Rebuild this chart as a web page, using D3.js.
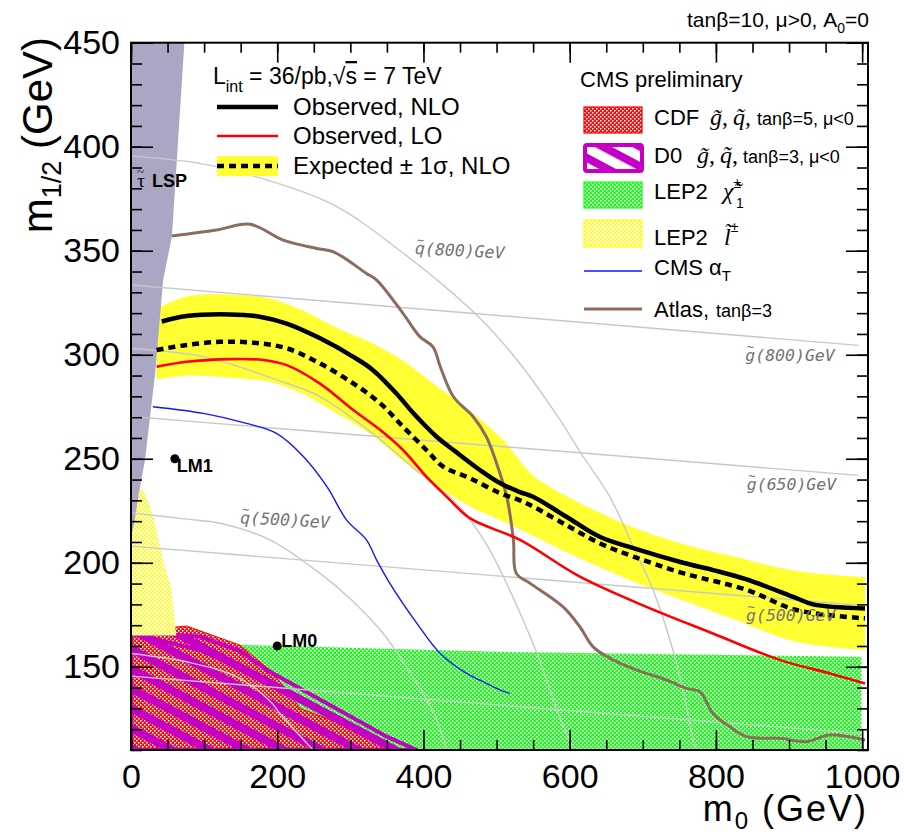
<!DOCTYPE html>
<html>
<head>
<meta charset="utf-8">
<script src="https://cdn.jsdelivr.net/npm/d3@7"></script>
<style>
  body { margin: 0; background: #fff; }
  svg text { font-family: "Liberation Sans", Arial, sans-serif; }
</style>
</head>
<body>
<svg id="chart" width="904" height="838"></svg>
<script>
// axis ticks
const xTicksMajor = [0, 200, 400, 600, 800, 1000];
const yTicksMajor = [150, 200, 250, 300, 350, 400, 450];

// expected +-1 sigma band (m0, upper, lower)
const bandM0   = [35, 76, 135, 190, 236, 281, 327, 372, 418, 464, 509, 550, 596, 641, 687, 755, 824, 910, 1004];
const bandUp   = [322, 328, 329, 327, 321, 313, 306, 297, 285, 273, 259, 242, 232, 224, 217, 209, 203, 196, 193];
const bandDown = [288, 290, 289, 287, 281, 272, 262, 249, 237, 227, 220, 213, 205, 198, 191, 182, 173, 162, 158];

// limit curves [m0, m1/2]
const obsNLO = [[42,316],[76,318.6],[135,319.4],[176,318.3],[213,315],[258,308],[304,299],[331,292.6],[363,281.4],[386,272],[418,260.6],[441,254.2],[477,244.6],[505,238.2],[532,234],[550,231.7],[596,222],[641,212.5],[687,207],[755,200],[796,196.5],[842,192],[910,183],[933,180],[1004,178]];
const expNLO = [[35,302.3],[76,304.7],[122,306.2],[167,305.8],[213,303.1],[258,295.9],[304,286.2],[341,276.6],[372,265.4],[404,254.2],[427,246.2],[464,240.6],[505,233.4],[532,230],[550,227],[596,218],[641,209.4],[687,203],[755,195],[842,187],[910,177.3],[1004,173.3]];
const obsLO = [[35,294.2],[76,296.6],[135,297.9],[181,297.5],[213,295],[258,286.2],[304,273.4],[341,263.8],[372,254.2],[404,241.4],[432,231.7],[464,221.3],[532,211],[614,193.3],[705,178.8],[796,166],[888,153.2],[956,146.8],[1004,142]];
const cmsAlphaT = [[30,275],[99,271.8],[158,267],[199,262.2],[236,251],[268,236.6],[295,220.5],[322,211],[336,201.3],[354,190.1],[391,170.9],[423,156.4],[459,146.8],[477,143.6],[505,138.8],[518,137.2]];
const atlas = [[56,357.1],[117,360],[163,362.7],[208,355.1],[254,351.1],[277,349.5],[322,339.1],[336,335.9],[372,319.9],[395,308.7],[413,303.8],[423,294.2],[441,279.8],[468,270.2],[486,260.6],[500,247.8],[514,231.7],[523,211],[527,194.9],[546,190.1],[591,178.8],[614,169.2],[632,159.6],[660,153.2],[692,148.4],[733,143.6],[760,139.6],[778,138],[796,127.6],[819,121.2],[842,116.4],[888,115.6],[924,114],[956,117.2],[1004,114.8]];

// excluded regions
const stauLSP = [[0,212],[5,220],[10,232],[19,249],[33,291],[44,336],[56,357],[73,450],[0,450]];
const lep2Slepton = [[0,232],[12,237],[22,231],[33,219],[44,201],[55,188],[60,171],[62,165],[0,165]];
const lep2Chargino = [[100,161],[505,157.2],[999,154.8],[999,110],[100,110]];
const cdf = [[0,167],[76,169.6],[149,160.4],[190,148.4],[213,138.8],[231,130],[299,121.2],[350,113.2],[354,110],[0,110]];
const d0 = [[0,167],[95,164.4],[149,157.7],[186,148.4],[350,116.4],[391,110],[0,110]];
const d0Inner = [[0,166],[95,158],[186,143.6],[277,126],[359,110]];

// iso-mass lines
const squark800 = [[0,395.5],[94,392],[186,384],[277,372],[368,350],[473,319],[528,297.5],[587,268.6],[614,253.4],[655,231.7],[687,207.7],[714,187],[737,163],[755,139],[769,115],[774,110]];
const squark650 = [[0,303],[100,299],[199,288],[258,280],[331,262],[395,243],[441,230],[486,209],[532,176],[559,153],[583,129],[605,110]];
const squark500 = [[0,224],[76,221],[122,219],[190,211],[258,195],[299,183],[345,166],[382,147],[414,128],[432,110]];
const squark350 = [[0,156.4],[76,152.4],[145,145.2],[190,133.6],[204,127.4],[249,110]];
const gluino800 = [[0,333.5],[995,304.5]];
const gluino650 = [[0,270.3],[995,242]];
const gluino500 = [[0,208],[1000,179.5]];
const gluino350 = [[0,145.5],[997,118]];

// iso-mass labels: letter, mass, anchor [m0, m1/2], tilt
const isoLetters = ['q', 'g', 'g', 'q', 'g'];
const isoMasses  = [800, 800, 650, 500, 500];
const isoAnchors = [[388, 348.5], [840, 297], [842, 235], [149, 219], [841, 172]];
const isoTilts   = [3, 0, 0, 3, 0];

// benchmark points
const benchNames = ['LM1', 'LM0'];
const benchM0    = [60, 200];
const benchM12   = [250, 160];

const x = d3.scaleLinear().domain([0, 1008]).range([131, 868]);
const y = d3.scaleLinear().domain([110, 450]).range([750, 42.7]);

const svg = d3.select('#chart');
const defs = svg.append('defs');

function checker(id, color, cell) {
    const p = defs.append('pattern').attr('id', id)
        .attr('patternUnits', 'userSpaceOnUse').attr('width', 4).attr('height', 4);
    p.append('rect').attr('width', 4).attr('height', 4).attr('fill', color);
    p.append('rect').attr('width', cell).attr('height', cell).attr('fill', '#fff');
    p.append('rect').attr('x', 2).attr('y', 2).attr('width', cell).attr('height', cell).attr('fill', '#fff');
}
checker('redck', '#ff0a0a', 1.5);
checker('greenck', '#1aff1a', 1.5);
checker('yellowck', '#ffff10', 2);

const hatch = defs.append('pattern').attr('id', 'd0hatch')
    .attr('patternUnits', 'userSpaceOnUse').attr('width', 10).attr('height', 17.5)
    .attr('patternTransform', 'rotate(28)');
hatch.append('rect').attr('width', 10).attr('height', 8).attr('fill', '#c400c4');

defs.append('clipPath').attr('id', 'plotclip')
    .append('rect').attr('x', x(0)).attr('y', y(450)).attr('width', x(1008) - x(0)).attr('height', y(110) - y(450));

const plot = svg.append('g').attr('clip-path', 'url(#plotclip)');

const poly = d3.line().x(d => x(d[0])).y(d => y(d[1]));
const curve = d3.line().x(d => x(d[0])).y(d => y(d[1])).curve(d3.curveCatmullRom.alpha(0.5));

// regions
plot.append('path').attr('d', poly(lep2Chargino) + 'Z').attr('fill', 'url(#greenck)');
plot.append('path').attr('d', poly(cdf) + 'Z').attr('fill', 'url(#redck)').attr('stroke', '#ff0000').attr('stroke-width', 1);
plot.append('path').attr('d', poly(d0) + 'Z').attr('fill', 'url(#d0hatch)').attr('stroke', '#c400c4').attr('stroke-width', 4);
plot.append('path').attr('d', poly(d0Inner)).attr('fill', 'none').attr('stroke', '#c400c4').attr('stroke-width', 4);
plot.append('path').attr('d', poly(lep2Slepton) + 'Z').attr('fill', 'url(#yellowck)');

const band = d3.area()
    .x((d, i) => x(bandM0[i]))
    .y0((d, i) => y(bandDown[i]))
    .y1((d, i) => y(bandUp[i]))
    .curve(d3.curveCatmullRom.alpha(0.5));
plot.append('path').attr('d', band(bandM0)).attr('fill', '#ffff33');

plot.append('path').attr('d', poly(stauLSP) + 'Z').attr('fill', '#aaa6c3');

// iso-mass lines
[squark800, squark650, squark500, squark350, gluino800, gluino650, gluino500, gluino350].forEach(l => {
    plot.append('path').attr('d', curve(l)).attr('fill', 'none').attr('stroke', '#c8c8c8').attr('stroke-width', 1.4);
});

// limit curves
plot.append('path').attr('d', curve(cmsAlphaT)).attr('fill', 'none').attr('stroke', '#1515ff').attr('stroke-width', 1.4);
plot.append('path').attr('d', curve(atlas)).attr('fill', 'none').attr('stroke', '#8a6d5f').attr('stroke-width', 3);
plot.append('path').attr('d', curve(obsLO)).attr('fill', 'none').attr('stroke', '#ff0000').attr('stroke-width', 2.6);
plot.append('path').attr('d', curve(expNLO)).attr('fill', 'none').attr('stroke', '#000').attr('stroke-width', 4.5).attr('stroke-dasharray', '7,5');
plot.append('path').attr('d', curve(obsNLO)).attr('fill', 'none').attr('stroke', '#000').attr('stroke-width', 4.5);

// iso-mass labels, tilde set above the first letter inside the same text
isoLetters.forEach((letter, i) => {
    const t = svg.append('text')
        .attr('transform', `translate(${x(isoAnchors[i][0])},${y(isoAnchors[i][1])}) rotate(${isoTilts[i]})`)
        .style('font-family', '"DejaVu Sans Mono", monospace')
        .style('font-style', 'oblique')
        .attr('font-size', 16.5)
        .attr('fill', '#737373');
    t.append('tspan').text(letter);
    t.append('tspan').attr('font-size', 12).attr('dx', -8.3).attr('dy', -10).text('~');
    t.append('tspan').attr('dx', 1.2).attr('dy', 10).text(`(${isoMasses[i]})GeV`);
});

// benchmark points
benchNames.forEach((n, i) => {
    svg.append('circle').attr('cx', x(benchM0[i])).attr('cy', y(benchM12[i])).attr('r', 4.5).attr('fill', '#000');
});
svg.append('text').attr('x', x(benchM0[0]) + 2).attr('y', y(benchM12[0]) + 13).attr('font-size', 18).attr('font-weight', 'bold').text(benchNames[0]);
svg.append('text').attr('x', x(benchM0[1]) + 4).attr('y', y(benchM12[1]) + 1).attr('font-size', 18).attr('font-weight', 'bold').text(benchNames[1]);

// stau LSP label
const st = svg.append('text').attr('x', 137).attr('y', 187).attr('font-size', 19);
st.append('tspan').style('font-family', '"Liberation Serif", serif').text('\u03c4');
st.append('tspan').style('font-family', '"Liberation Serif", serif').attr('font-size', 13).attr('dx', -8).attr('dy', -11).text('~');
st.append('tspan').attr('x', 152).attr('dy', 11).attr('font-size', 18).attr('font-weight', 'bold').text('LSP');

// axes
function styleAxis(g) {
    g.select('.domain').remove();
    g.selectAll('.tick line').attr('stroke', '#000').attr('stroke-width', 1.6);
    g.selectAll('text').attr('font-family', '"Liberation Sans", Arial, sans-serif').attr('font-size', 34).attr('fill', '#000');
}
svg.append('g').attr('transform', `translate(0,${y(110)})`)
    .call(d3.axisBottom(x).tickValues(d3.range(0, 1001, 50)).tickSizeInner(-10).tickSizeOuter(0).tickFormat(''))
    .call(styleAxis);
svg.append('g').attr('transform', `translate(0,${y(110)})`)
    .call(d3.axisBottom(x).tickValues(xTicksMajor).tickSizeInner(-20).tickSizeOuter(0).tickPadding(14).tickFormat(d3.format('d')))
    .call(styleAxis);
svg.append('g').attr('transform', `translate(0,${y(450)})`)
    .call(d3.axisTop(x).tickValues(d3.range(0, 1001, 50)).tickSizeInner(-10).tickSizeOuter(0).tickFormat(''))
    .call(styleAxis);
svg.append('g').attr('transform', `translate(0,${y(450)})`)
    .call(d3.axisTop(x).tickValues(xTicksMajor).tickSizeInner(-20).tickSizeOuter(0).tickFormat(''))
    .call(styleAxis);
svg.append('g').attr('transform', `translate(${x(0)},0)`)
    .call(d3.axisLeft(y).tickValues(d3.range(110, 451, 10)).tickSizeInner(-11).tickSizeOuter(0).tickFormat(''))
    .call(styleAxis);
svg.append('g').attr('transform', `translate(${x(0)},0)`)
    .call(d3.axisLeft(y).tickValues(yTicksMajor).tickSizeInner(-22).tickSizeOuter(0).tickPadding(11).tickFormat(d3.format('d')))
    .call(styleAxis);
svg.append('g').attr('transform', `translate(${x(1008)},0)`)
    .call(d3.axisRight(y).tickValues(d3.range(110, 451, 10)).tickSizeInner(-11).tickSizeOuter(0).tickFormat(''))
    .call(styleAxis);
svg.append('g').attr('transform', `translate(${x(1008)},0)`)
    .call(d3.axisRight(y).tickValues(yTicksMajor).tickSizeInner(-22).tickSizeOuter(0).tickFormat(''))
    .call(styleAxis);

svg.append('rect').attr('x', x(0)).attr('y', y(450)).attr('width', x(1008) - x(0)).attr('height', y(110) - y(450))
    .attr('fill', 'none').attr('stroke', '#000').attr('stroke-width', 2);

// axis titles
const yt = svg.append('text').attr('transform', 'translate(52,37) rotate(-90)').attr('text-anchor', 'end').attr('font-size', 42);
yt.append('tspan').text('m');
yt.append('tspan').attr('font-size', 27).attr('dy', 9).text('1/2');
yt.append('tspan').attr('dy', -9).text(' (GeV)');

const xt = svg.append('text').attr('x', 868).attr('y', 821).attr('text-anchor', 'end').attr('font-size', 36).attr('letter-spacing', 2);
xt.append('tspan').text('m');
xt.append('tspan').attr('font-size', 24).attr('dy', 8).text('0');
xt.append('tspan').attr('dy', -8).text(' (GeV)');

// top right parameters
const tp = svg.append('text').attr('x', 869).attr('y', 27).attr('text-anchor', 'end').attr('font-size', 21);
tp.append('tspan').text('tan\u03b2=10, \u03bc>0, A');
tp.append('tspan').attr('font-size', 14).attr('dy', 6).text('0');
tp.append('tspan').attr('dy', -6).text('=0');

// left legend
const lt = svg.append('text').attr('x', 213).attr('y', 84).attr('font-size', 23);
lt.append('tspan').text('L');
lt.append('tspan').attr('font-size', 16).attr('dy', 8).text('int');
lt.append('tspan').attr('dy', -8).text(' = 36/pb,\u221a');
lt.append('tspan').style('text-decoration', 'overline').text('s');
lt.append('tspan').text(' = 7 TeV');

svg.append('line').attr('x1', 217).attr('x2', 278).attr('y1', 107).attr('y2', 107).attr('stroke', '#000').attr('stroke-width', 4.5);
svg.append('text').attr('x', 293).attr('y', 115).attr('font-size', 24).text('Observed, NLO');
svg.append('line').attr('x1', 217).attr('x2', 278).attr('y1', 136).attr('y2', 136).attr('stroke', '#ff0000').attr('stroke-width', 2.6);
svg.append('text').attr('x', 293).attr('y', 144).attr('font-size', 24).text('Observed, LO');
svg.append('rect').attr('x', 217).attr('y', 156).attr('width', 61).attr('height', 20).attr('fill', '#ffff33');
svg.append('line').attr('x1', 217).attr('x2', 278).attr('y1', 166).attr('y2', 166).attr('stroke', '#000').attr('stroke-width', 4.5).attr('stroke-dasharray', '7,5');
svg.append('text').attr('x', 293).attr('y', 174).attr('font-size', 24).text('Expected \u00b1 1\u03c3, NLO');

// right legend
svg.append('text').attr('x', 580).attr('y', 87).attr('font-size', 22).text('CMS preliminary');

svg.append('rect').attr('x', 584).attr('y', 107).attr('width', 58).attr('height', 26).attr('fill', 'url(#redck)').attr('stroke', '#ff0000').attr('stroke-width', 1.2);
svg.append('rect').attr('x', 585).attr('y', 145).attr('width', 57).attr('height', 26).attr('fill', '#fff');
svg.append('rect').attr('x', 585).attr('y', 145).attr('width', 57).attr('height', 26).attr('rx', 2).attr('fill', 'url(#d0hatch)').attr('stroke', '#c400c4').attr('stroke-width', 4);
svg.append('rect').attr('x', 584).attr('y', 182).attr('width', 58).attr('height', 26).attr('fill', 'url(#greenck)').attr('stroke', '#1aff1a').attr('stroke-width', 1.2);
svg.append('rect').attr('x', 584).attr('y', 220).attr('width', 58).attr('height', 27).attr('fill', 'url(#yellowck)').attr('stroke', '#ffff10').attr('stroke-width', 1.2);
svg.append('line').attr('x1', 584).attr('x2', 642).attr('y1', 271).attr('y2', 271).attr('stroke', '#1515ff').attr('stroke-width', 1.4);
svg.append('line').attr('x1', 584).attr('x2', 642).attr('y1', 309).attr('y2', 309).attr('stroke', '#8a6d5f').attr('stroke-width', 3);

const serif = '"Liberation Serif", serif';
function sparticleRow(yb, name, gX, qX, tanX, tanText) {
    const t = svg.append('text').attr('x', 654).attr('y', yb).attr('font-size', 22);
    t.append('tspan').text(name);
    t.append('tspan').attr('x', gX).style('font-family', serif).style('font-style', 'italic').attr('font-size', 24).text('g\u0303');
    t.append('tspan').style('font-family', serif).attr('font-size', 24).text(',');
    t.append('tspan').attr('x', qX).style('font-family', serif).style('font-style', 'italic').attr('font-size', 24).text('q\u0303');
    t.append('tspan').style('font-family', serif).attr('font-size', 24).text(',');
    t.append('tspan').attr('x', tanX).attr('font-size', 18).text(tanText);
}
sparticleRow(125, 'CDF', 710, 733, 757, 'tan\u03b2=5, \u03bc<0');
sparticleRow(163, 'D0', 697, 720, 743, 'tan\u03b2=3, \u03bc<0');

const l1 = svg.append('text').attr('x', 654).attr('y', 199).attr('font-size', 22);
l1.append('tspan').text('LEP2');
l1.append('tspan').attr('x', 723).style('font-family', serif).style('font-style', 'italic').attr('font-size', 24).text('\u03c7\u0303');
l1.append('tspan').attr('font-size', 14).attr('dy', -11).text('\u00b1');
l1.append('tspan').attr('font-size', 14).attr('x', 736).attr('dy', 20).text('1');

const l2 = svg.append('text').attr('x', 654).attr('y', 245).attr('font-size', 22);
l2.append('tspan').text('LEP2');
l2.append('tspan').attr('x', 724).style('font-family', serif).style('font-style', 'italic').attr('font-size', 24).text('l\u0303');
l2.append('tspan').attr('font-size', 14).attr('dy', -13).text('\u00b1');

const ca = svg.append('text').attr('x', 654).attr('y', 275).attr('font-size', 22);
ca.append('tspan').text('CMS \u03b1');
ca.append('tspan').attr('font-size', 15).attr('dy', 6).text('T');

const at = svg.append('text').attr('x', 654).attr('y', 317).attr('font-size', 22);
at.append('tspan').text('Atlas,');
at.append('tspan').attr('x', 716).attr('font-size', 18).text('tan\u03b2=3');
</script>
</body>
</html>
